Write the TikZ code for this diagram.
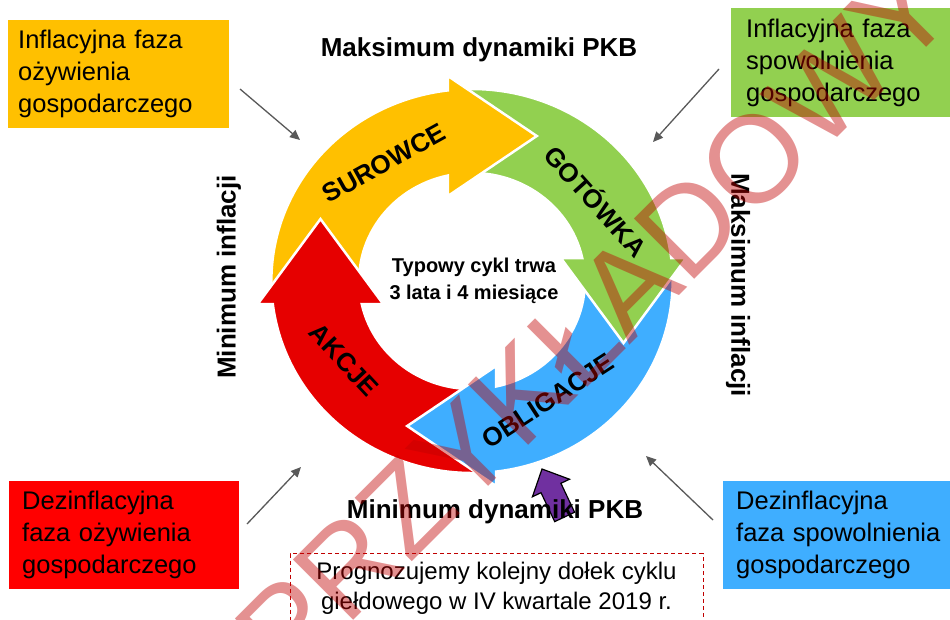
\documentclass[tikz,border=0pt]{standalone}
\usepackage{fontspec}
\setmainfont{Liberation Sans}
\usetikzlibrary{arrows.meta}
\definecolor{fazaorange}{HTML}{FFC000}
\definecolor{fazagreen}{HTML}{92D050}
\definecolor{fazablue}{HTML}{3FAEFF}
\definecolor{fazared}{HTML}{FF0000}
\definecolor{ringred}{HTML}{E60000}
\definecolor{pointgray}{HTML}{595959}
\definecolor{markpurple}{HTML}{7030A0}
\definecolor{dashred}{HTML}{C00000}
\tikzset{
  phasebox/.style={rectangle, anchor=north west, align=left, inner ysep=0pt,
    minimum height=108pt, font=\fontsize{25.5}{32}\selectfont},
  ringarrow/.style={draw=white, line width=2.5pt, line join=miter},
  ringlabel/.style={inner sep=0pt, font=\fontsize{26}{26}\selectfont\bfseries},
  axislabel/.style={inner sep=0pt, font=\fontsize{26}{30}\selectfont\bfseries},
  pointer/.style={draw=pointgray, line width=1.3pt, -{Triangle[length=10pt,width=9pt]}},
  watermark/.style={inner sep=0pt, rotate=45, text=dashred, text opacity=0.43,
    font=\fontsize{124}{124}\selectfont}
}
% one curved arrow of the cycle, centred at the origin
\newcommand{\ringpath}{(189:192) arc[start angle=189, end angle=96.88, radius=192]
  -- (-23,205) -- (62,145) -- (-23,85) -- (-23,105.5)
  arc[start angle=102.28, end angle=189, radius=108] -- cycle}
\begin{document}
\begin{tikzpicture}[x=1pt,y=1pt]
\useasboundingbox (0,0) rectangle (950,-619);
% phases
\node[phasebox, fill=fazaorange, text width=201pt, inner xsep=10pt] (infOzyw) at (8,-20)
  {Inflacyjna faza\\ożywienia\\gospodarczego};
\node[phasebox, fill=fazagreen, text width=210pt, inner xsep=15pt, minimum height=109pt] (infSpow) at (731,-8)
  {Inflacyjna faza\\spowolnienia\\gospodarczego};
\node[phasebox, fill=fazared, text width=204pt, inner xsep=13pt] (dezOzyw) at (9,-481)
  {Dezinflacyjna\\faza ożywienia\\gospodarczego};
\node[phasebox, fill=fazablue, text width=220pt, inner xsep=13pt] (dezSpow) at (723,-481)
  {Dezinflacyjna\\faza spowolnienia\\gospodarczego};
% cycle
\begin{scope}[shift={(472,-281)}, xscale=1.045]
  \foreach \col/\rot in {ringred/90, fazablue/180, fazagreen/270, fazaorange/0}
    \filldraw[ringarrow, fill=\col, rotate=\rot] \ringpath;
  \begin{scope}
    \clip (-240,-60) rectangle (-60,100);
    \filldraw[ringarrow, fill=ringred, rotate=90] \ringpath;
  \end{scope}
\end{scope}
\node[ringlabel, rotate=29] (surowce) at (384,-163) {SUROWCE};
\node[ringlabel, rotate=-48] (gotowka) at (597,-200) {GOTÓWKA};
\node[ringlabel, rotate=33] (obligacje) at (548,-401) {OBLIGACJE};
\node[ringlabel, rotate=-47] (akcje) at (344,-360) {AKCJE};
\node[align=center, inner sep=0pt, font=\fontsize{20}{27}\selectfont\bfseries] (cykl) at (474,-281)
  {Typowy cykl trwa\\3 lata i 4 miesiące};
% pointers
\coordinate (p1a) at (240,-89);  \coordinate (p1b) at (300,-140);
\coordinate (p2a) at (719,-69);  \coordinate (p2b) at (653,-142);
\coordinate (p3a) at (247,-524); \coordinate (p3b) at (301,-467);
\coordinate (p4a) at (713,-520); \coordinate (p4b) at (646,-456);
\draw[pointer] (p1a) -- (p1b);
\draw[pointer] (p2a) -- (p2b);
\draw[pointer] (p3a) -- (p3b);
\draw[pointer] (p4a) -- (p4b);
% purple marker
\filldraw[fill=markpurple, draw=black, line width=1.2pt, shift={(542,-469)}, rotate=115.3]
  (0,0) -- (-21,20.5) -- (-21,11) -- (-53,11) -- (-53,-11) -- (-21,-11) -- (-21,-20.5) -- cycle;
% axis texts
\node[axislabel] (maxPKB) at (479,-50) {Maksimum dynamiki PKB};
\node[axislabel] (minPKB) at (495,-512) {Minimum dynamiki PKB};
\node[axislabel, rotate=90] (minInf) at (229,-277) {Minimum inflacji};
\node[axislabel, rotate=-90] (maxInf) at (738,-285) {Maksimum inflacji};
% forecast
\node[draw=dashred, dash pattern=on 4pt off 3pt, line width=1pt, minimum width=413pt, minimum height=70pt,
  anchor=north, align=center, font=\fontsize{24}{30}\selectfont] (prognoza) at (496.5,-553)
  {Prognozujemy kolejny dołek cyklu\\giełdowego w IV kwartale 2019 r.};
\node[watermark] (probka) at (594,-320) {PRZYKŁADOWY};
\end{tikzpicture}
\end{document}
